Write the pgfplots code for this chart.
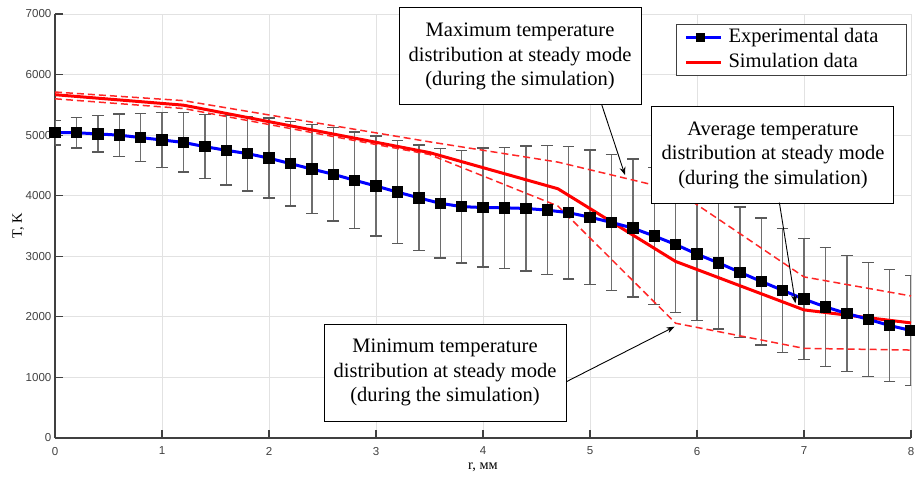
\documentclass[border=0pt]{standalone}
\usepackage{fontspec}
\setmainfont{Liberation Serif}
\newfontfamily\ticksans{Liberation Sans}
\usepackage{pgfplots}
\usepackage{pgfplotstable}
\pgfplotsset{compat=1.18}
\usetikzlibrary{arrows.meta}
\definecolor{gridgray}{RGB}{226,226,226}
\definecolor{axgray}{RGB}{64,64,64}
\definecolor{errgray}{RGB}{110,110,110}
\definecolor{simred}{RGB}{255,0,0}
\definecolor{expblue}{RGB}{0,0,255}

% experimental data: r, T, error
\pgfplotstableread{
r T err
0 5040 200
0.2 5040 250
0.4 5020 300
0.6 5000 350
0.8 4960 400
1.0 4920 450
1.2 4880 490
1.4 4810 530
1.6 4750 570
1.8 4695 615
2.0 4620 660
2.2 4530 700
2.4 4440 735
2.6 4355 770
2.8 4255 800
3.0 4160 825
3.2 4060 850
3.4 3965 870
3.6 3875 900
3.8 3820 930
4.0 3805 980
4.2 3800 1000
4.4 3790 1030
4.6 3762 1065
4.8 3720 1095
5.0 3645 1110
5.2 3560 1125
5.4 3465 1140
5.6 3335 1135
5.8 3195 1120
6.0 3035 1100
6.2 2892 1095
6.4 2737 1075
6.6 2585 1050
6.8 2438 1025
7.0 2292 1000
7.2 2165 980
7.4 2055 960
7.6 1960 940
7.8 1857 925
8.0 1775 910
}\expdata

% simulation: average, max, min
\pgfplotstableread{
r T
0 5668
1.2 5495
3.5 4712
4.7 4115
5.8 2915
7.0 2115
8.0 1900
}\simavg
\pgfplotstableread{
r T
0 5712
1.2 5570
3.5 4890
4.7 4555
5.8 4090
7.0 2660
8.0 2345
}\simmax
\pgfplotstableread{
r T
0 5600
1.2 5440
3.5 4680
4.7 3830
5.8 1895
7.0 1480
8.0 1452
}\simmin

\begin{document}
\begin{tikzpicture}
\path[use as bounding box] (-27.5bp,-19.5bp) rectangle (430bp,219bp);
\begin{axis}[
    scale only axis, width=428bp, height=212bp,
    xmin=0, xmax=8, ymin=0, ymax=7000,
    xtick={0,1,...,8}, ytick={0,1000,...,7000},
    axis x line=bottom, axis y line=left,
    x axis line style={-}, y axis line style={-},
    axis line style={axgray, line width=0.6bp},
    tick align=inside, major tick length=3.8bp,
    tick style={axgray, line width=0.6bp},
    grid=major, major grid style={gridgray, line width=0.5bp},
    /pgf/number format/assume math mode=true,
    /pgf/number format/1000 sep={},
    ticklabel style={font=\ticksans\fontsize{5.8}{7}\selectfont, text=axgray},
    yticklabel style={inner sep=0pt, xshift=-1.6bp},
    xticklabel style={inner sep=0pt, yshift=-4.3bp},
    xlabel={r, мм}, ylabel={T, K},
    label style={font=\fontsize{7.2}{8}\selectfont},
    xlabel style={at={(axis description cs:0.5,-0.068)}, anchor=center},
    ylabel style={at={(axis description cs:-0.043,0.5)}, anchor=center},
    clip mode=individual,
    legend style={at={(rel axis cs:1,1)}, anchor=north east, xshift=-2bp, yshift=-5bp,
        draw=axgray, line width=0.5bp, fill=white,
        font=\fontsize{10.3}{12.3}\selectfont,
        inner xsep=4bp, inner ysep=0.5bp, row sep=0pt,
        nodes={inner xsep=3bp, inner ysep=1.4bp, text height=7.3bp, text depth=2.1bp}},
    legend cell align=left,
    legend image code/.code={
        \path (0bp,0bp) -- (17.5bp,0bp);
        \draw[#1] (0bp,0bp) -- (14bp,0bp);
        \draw[#1, mark size=1.5bp] plot coordinates {(7bp,0bp)};
    },
]
% error bars
\addplot[only marks, mark=none, forget plot,
    error bars/.cd, y dir=both, y explicit,
    error bar style={errgray, line width=0.7bp},
    error mark options={rotate=90, black!65, line width=0.7bp, mark size=2.9bp}]
    table[x=r, y=T, y error=err] {\expdata};
% simulation min / max
\addplot[simred!85, line width=0.75bp, dash pattern=on 3.5bp off 2bp, forget plot]
    table[x=r, y=T] {\simmax};
\addplot[simred!85, line width=0.75bp, dash pattern=on 3.5bp off 2bp, forget plot]
    table[x=r, y=T] {\simmin};
% simulation average
\addplot[simred, line width=1.5bp, forget plot] table[x=r, y=T] {\simavg};
% experiment
\addplot[expblue, line width=1.5bp, mark=square*, mark size=2.1bp,
    mark options={black, fill=black, solid}]
    table[x=r, y=T] {\expdata};
\addlegendentry{\makebox[82bp][l]{Experimental data}}
\addlegendimage{simred, line width=1.5bp}
\addlegendentry{Simulation data}

% annotations
\begin{scope}[every node/.style={draw=black, fill=white, line width=0.5bp,
    align=center, minimum width=121bp, minimum height=48.5bp, inner sep=0pt,
    font=\fontsize{10.3}{12.3}\selectfont}]
\node at (axis cs:4.346,6299) {Maximum temperature\\distribution at steady mode\\(during the simulation)};
\node at (axis cs:6.71,4672) {Average temperature\\distribution at steady mode\\(during the simulation)};
\node at (axis cs:3.645,1081) {Minimum temperature\\distribution at steady mode\\(during the simulation)};
\end{scope}
\begin{scope}[-{Stealth[length=4bp, width=3bp]}, line width=0.45bp]
\draw (axis cs:5.11,5500) -- (axis cs:5.327,4342);
\draw (axis cs:6.77,3885) -- (axis cs:6.92,2224);
\draw (axis cs:4.78,930) -- (axis cs:5.79,1838);
\end{scope}
\end{axis}
\end{tikzpicture}
\end{document}
